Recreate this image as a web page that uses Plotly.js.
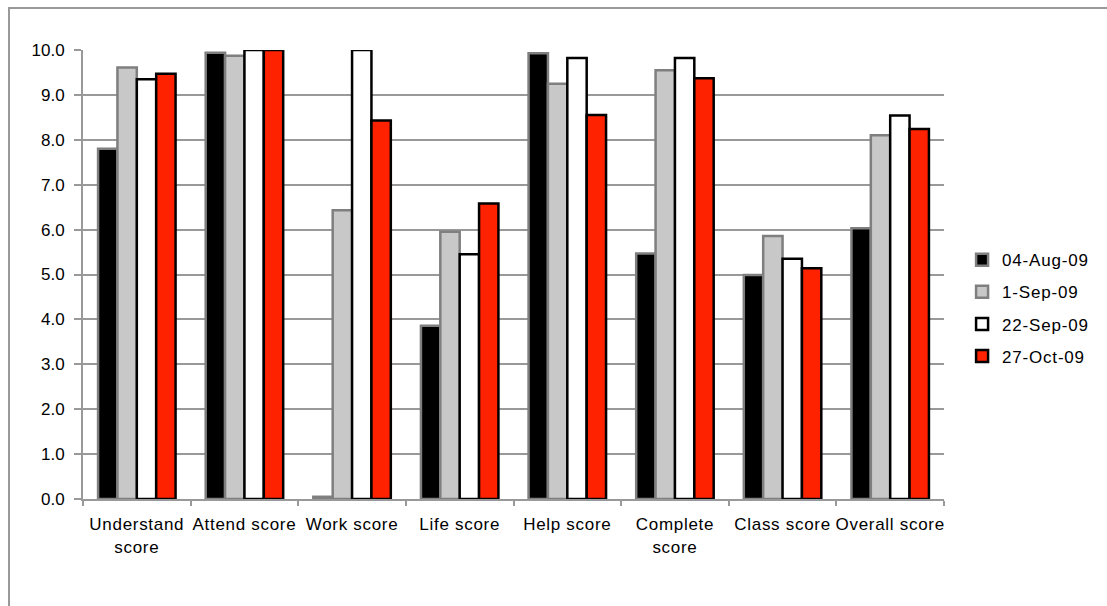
<!DOCTYPE html>
<html>
<head>
<meta charset="utf-8">
<script src="https://cdn.plot.ly/plotly-3.0.1.min.js"></script>
<style>
html,body{margin:0;padding:0;background:#fff;}
#chart{width:1107px;height:606px;}
.xtick text{letter-spacing:0.7px;}
.legendtext{letter-spacing:0.8px;}
</style>
</head>
<body>
<div id="chart"></div>
<script>
const categories = ["Understand<br>score", "Attend score", "Work score", "Life score", "Help score", "Complete<br>score", "Class score", "Overall score"];
const seriesNames = ["04-Aug-09", "1-Sep-09", "22-Sep-09", "27-Oct-09"];
const aug04 = [7.80, 9.94, 0.05, 3.86, 9.93, 5.47, 4.99, 6.03];
const sep01 = [9.61, 9.87, 6.43, 5.95, 9.25, 9.55, 5.86, 8.10];
const sep22 = [9.35, 10.0, 10.0, 5.45, 9.82, 9.82, 5.35, 8.54];
const oct27 = [9.47, 10.0, 8.43, 6.58, 8.55, 9.37, 5.14, 8.24];
const yTicks = [0, 1, 2, 3, 4, 5, 6, 7, 8, 9, 10];

const fills = ["#000000", "#c8c8c8", "#ffffff", "#ff2200"];
const outlines = ["#7f7f7f", "#7f7f7f", "#000000", "#000000"];
const values = [aug04, sep01, sep22, oct27];

const traces = values.map((v, i) => ({
  type: "bar",
  name: seriesNames[i],
  x: categories,
  y: v,
  legendgroup: "g" + i,
  marker: {color: fills[i], line: {color: outlines[i], width: 2.5}},
  hoverinfo: "x+y+name"
}));

const layout = {
  width: 1107, height: 606,
  margin: {l: 83, r: 163, t: 50, b: 107},
  paper_bgcolor: "#ffffff",
  plot_bgcolor: "#ffffff",
  font: {family: "Liberation Sans, Arial, sans-serif", size: 17, color: "#000"},
  barmode: "group",
  bargap: 0.28,
  bargroupgap: 0,
  showlegend: true,
  legend: {x: 1.021, y: 0.425, xanchor: "left", yanchor: "middle", traceorder: "grouped", tracegroupgap: 7,
           font: {size: 17, family: "Liberation Sans, Arial, sans-serif"}, bgcolor: "rgba(0,0,0,0)"},
  xaxis: {
    showline: true, linecolor: "#999999", linewidth: 2,
    ticks: "outside", tickson: "boundaries", ticklen: 5, tickcolor: "#999999", tickwidth: 2,
    ticklabelstandoff: 9, tickangle: 0,
    showgrid: false, zeroline: false, fixedrange: true,
    tickfont: {size: 17}
  },
  yaxis: {
    range: [0, 10], tickvals: yTicks, tickformat: ".1f",
    showline: true, linecolor: "#999999", linewidth: 2,
    ticks: "outside", ticklen: 7, tickcolor: "#999999", tickwidth: 2,
    ticklabelstandoff: 6,
    showgrid: true, gridcolor: "#999999", gridwidth: 2,
    zeroline: false, fixedrange: true,
    tickfont: {size: 17}
  },
  shapes: [{
    type: "rect", xref: "paper", yref: "paper",
    x0: (9 - 83) / 861, x1: (1130 - 83) / 861,
    y0: -(640 - 499) / 449, y1: (499 - 8) / 449,
    line: {color: "#999999", width: 2}, fillcolor: "rgba(0,0,0,0)", layer: "below"
  }]
};

Plotly.newPlot("chart", traces, layout, {displayModeBar: false, staticPlot: true});
</script>
</body>
</html>
